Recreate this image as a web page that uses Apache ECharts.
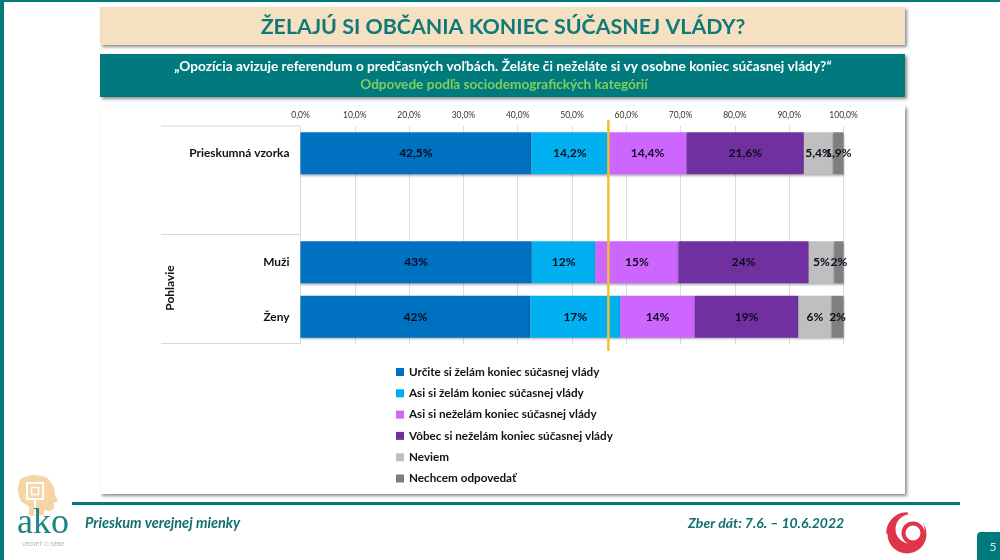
<!DOCTYPE html>
<html>
<head>
<meta charset="utf-8">
<style>
  html, body { margin: 0; padding: 0; background: #fff; }
  #chart { width: 1000px; height: 560px; }
</style>
<script src="https://cdn.jsdelivr.net/npm/echarts@6/dist/echarts.min.js"></script>
</head>
<body>
<div id="chart"></div>
<script>
const categories = ['Prieskumná vzorka', '', 'Muži', 'Ženy'];
const tickValues = [0, 10, 20, 30, 40, 50, 60, 70, 80, 90, 100];

const seriesNames = [
  'Určite si želám koniec súčasnej vlády',
  'Asi si želám koniec súčasnej vlády',
  'Asi si neželám koniec súčasnej vlády',
  'Vôbec si neželám koniec súčasnej vlády',
  'Neviem',
  'Nechcem odpovedať'
];
const definitelyYes = [42.5, null, 42.6, 42.3];
const probablyYes = [14.2, null, 11.7, 16.6];
const probablyNo = [14.4, null, 15.3, 13.7];
const definitelyNo = [21.6, null, 24.0, 19.1];
const dontKnow = [5.4, null, 4.7, 6.1];
const refused = [1.9, null, 1.7, 2.2];
const colors = ['#0070C0', '#00B0F0', '#CC66FF', '#7030A0', '#BFBFBF', '#7F7F7F'];

const referenceLine = [56.7];

const teal = '#007A7C';
const red = '#E0344B';
const font = 'Lato';

function formatLabel(params) {
  if (params.dataIndex === 0) {
    return params.value.toFixed(1).replace('.', ',') + '%';
  }
  return Math.round(params.value) + '%';
}

function barSeries(name, values, color) {
  return {
    name: name,
    type: 'bar',
    stack: 'total',
    barWidth: '77%',
    data: values,
    itemStyle: { color: color, shadowColor: 'rgba(0,0,0,0.3)', shadowBlur: 2, shadowOffsetY: 1.5 },
    label: { show: true, position: 'inside', formatter: formatLabel, color: '#0b0b1a', fontFamily: font, fontWeight: 'bold', fontSize: 12 }
  };
}

const allValues = [definitelyYes, probablyYes, probablyNo, definitelyNo, dontKnow, refused];
const series = seriesNames.map((name, i) => barSeries(name, allValues[i], colors[i]));

// yellow marker sticks out a little above and below the plot area
series.push({
  type: 'custom',
  name: 'line',
  data: referenceLine,
  z: 10,
  silent: true,
  clip: false,
  encode: { x: 0 },
  renderItem: function (params, api) {
    const x = api.coord([api.value(0), 0])[0];
    return {
      type: 'line',
      shape: { x1: x, y1: params.coordSys.y - 6, x2: x, y2: params.coordSys.y + params.coordSys.height + 7 },
      style: { stroke: '#EFC02F', lineWidth: 2.5 }
    };
  }
});

const panelShadow = { shadowColor: 'rgba(0,0,0,0.45)', shadowBlur: 3, shadowOffsetX: 2, shadowOffsetY: 2 };

const headOutline = [[18, 490], [21, 479], [33, 475], [47, 478], [54, 488], [55, 495], [58, 501], [54, 503], [54, 508], [50, 511], [44, 510], [44, 515], [29, 515], [29, 507], [21, 501]];

const decor = [
  // slide frame
  { type: 'rect', shape: { x: 0, y: 0, width: 1000, height: 2 }, style: { fill: teal } },
  { type: 'rect', shape: { x: 0, y: 0, width: 4, height: 560 }, style: { fill: teal } },
  { type: 'rect', shape: { x: 977, y: 532, width: 23, height: 28, r: [4, 0, 0, 0] }, style: { fill: teal } },
  { type: 'text', style: { x: 993, y: 547, text: '5', fill: '#d5e8e8', font: '12px ' + font, align: 'center', verticalAlign: 'middle' } },
  // heading boxes
  { type: 'rect', shape: { x: 100, y: 7, width: 805, height: 38 }, style: { fill: '#F6E0C2', ...panelShadow } },
  { type: 'text', style: { x: 503, y: 27, text: 'ŽELAJÚ SI OBČANIA KONIEC SÚČASNEJ VLÁDY?', fill: '#0F7A78', font: 'bold 21.4px ' + font, align: 'center', verticalAlign: 'middle' } },
  { type: 'rect', shape: { x: 100, y: 54, width: 805, height: 43 }, style: { fill: teal, ...panelShadow } },
  { type: 'text', style: { x: 503, y: 67, text: '„Opozícia avizuje referendum o predčasných voľbách. Želáte či neželáte si vy osobne koniec súčasnej vlády?“', fill: '#fff', font: 'bold 13.7px ' + font, align: 'center', verticalAlign: 'middle' } },
  { type: 'text', style: { x: 504, y: 85, text: 'Odpovede podľa sociodemografických kategórií', fill: '#7FCF5F', font: 'bold 13.6px ' + font, align: 'center', verticalAlign: 'middle' } },
  // chart panel
  { type: 'rect', z: -1, shape: { x: 100, y: 106, width: 805, height: 388 }, style: { fill: '#fff', ...panelShadow } },
  // category group separators
  { type: 'line', shape: { x1: 161, y1: 126, x2: 300, y2: 126 }, style: { stroke: '#d9d9d9', lineWidth: 1 } },
  { type: 'line', shape: { x1: 161, y1: 234.5, x2: 300, y2: 234.5 }, style: { stroke: '#d9d9d9', lineWidth: 1 } },
  { type: 'line', shape: { x1: 161, y1: 343.5, x2: 300, y2: 343.5 }, style: { stroke: '#d9d9d9', lineWidth: 1 } },
  { type: 'text', rotation: Math.PI / 2, x: 170, y: 288, style: { x: 0, y: 0, text: 'Pohlavie', fill: '#111', font: 'bold 12px ' + font, align: 'center', verticalAlign: 'middle' } },
  // footer
  { type: 'rect', shape: { x: 72, y: 502, width: 888, height: 3 }, style: { fill: teal } },
  { type: 'text', style: { x: 85, y: 523, text: 'Prieskum verejnej mienky', fill: '#0F6F70', font: 'italic bold 14.5px ' + font, verticalAlign: 'middle' } },
  { type: 'text', style: { x: 688, y: 523, text: 'Zber dát: 7.6. – 10.6.2022', fill: '#0F6F70', font: 'italic bold 14px ' + font, verticalAlign: 'middle' } },
  // ako logo
  { type: 'polygon', shape: { points: headOutline, smooth: 0.25 }, style: { fill: '#F5D5A5' } },
  { type: 'rect', shape: { x: 27, y: 483, width: 16, height: 16 }, style: { fill: 'none', stroke: '#fff', lineWidth: 2 } },
  { type: 'rect', shape: { x: 31.5, y: 487.5, width: 7, height: 7 }, style: { fill: 'none', stroke: '#fff', lineWidth: 1.5 } },
  { type: 'line', shape: { x1: 35, y1: 499, x2: 35, y2: 515 }, style: { stroke: '#fff', lineWidth: 2 } },
  { type: 'text', style: { x: 43, y: 524, text: 'ako', fill: '#1E8482', font: '36px "Liberation Serif"', align: 'center', verticalAlign: 'middle' } },
  { type: 'text', style: { x: 43, y: 544, text: 'VEDIEŤ O SEBE', fill: '#9fb8b8', font: '6px ' + font, align: 'center', verticalAlign: 'middle' } },
  // red spiral logo, painted as overlapping circles
  { type: 'circle', shape: { cx: 907, cy: 534, r: 19.5 }, style: { fill: red } },
  { type: 'circle', shape: { cx: 910, cy: 529, r: 14.5 }, style: { fill: '#fff' } },
  { type: 'circle', shape: { cx: 913, cy: 533, r: 9.5 }, style: { fill: 'none', stroke: red, lineWidth: 4 } },
  { type: 'arc', shape: { cx: 907, cy: 533, r: 19.5, startAngle: 3.1, endAngle: 4.75 }, style: { fill: 'none', stroke: red, lineWidth: 2.5 } }
];

const chart = echarts.init(document.getElementById('chart'));
chart.setOption({
  animation: false,
  backgroundColor: '#fff',
  textStyle: { fontFamily: font },
  grid: { left: 300.5, right: 156.5, top: 126, height: 218 },
  xAxis: {
    type: 'value',
    position: 'top',
    min: tickValues[0],
    max: tickValues[tickValues.length - 1],
    interval: 10,
    axisLine: { show: false },
    axisTick: { show: false },
    axisLabel: {
      margin: 6,
      color: '#333',
      fontSize: 8.5,
      fontFamily: font,
      formatter: (v) => v.toFixed(1).replace('.', ',') + '%'
    },
    splitLine: { show: true, lineStyle: { color: '#dedede', width: 1 } }
  },
  yAxis: {
    type: 'category',
    inverse: true,
    data: categories,
    axisLine: { show: true, lineStyle: { color: '#d9d9d9' } },
    axisTick: { show: false },
    axisLabel: { margin: 11, color: '#111', fontSize: 11.9, fontWeight: 'bold', fontFamily: font }
  },
  legend: {
    orient: 'vertical',
    left: 391,
    top: 360,
    itemWidth: 8,
    itemHeight: 8,
    itemGap: 7.3,
    icon: 'rect',
    data: seriesNames,
    selectedMode: false,
    textStyle: { color: '#111', fontSize: 11.7, fontWeight: 'bold', fontFamily: font, lineHeight: 14 }
  },
  series: series,
  graphic: { elements: decor }
});
</script>
</body>
</html>
